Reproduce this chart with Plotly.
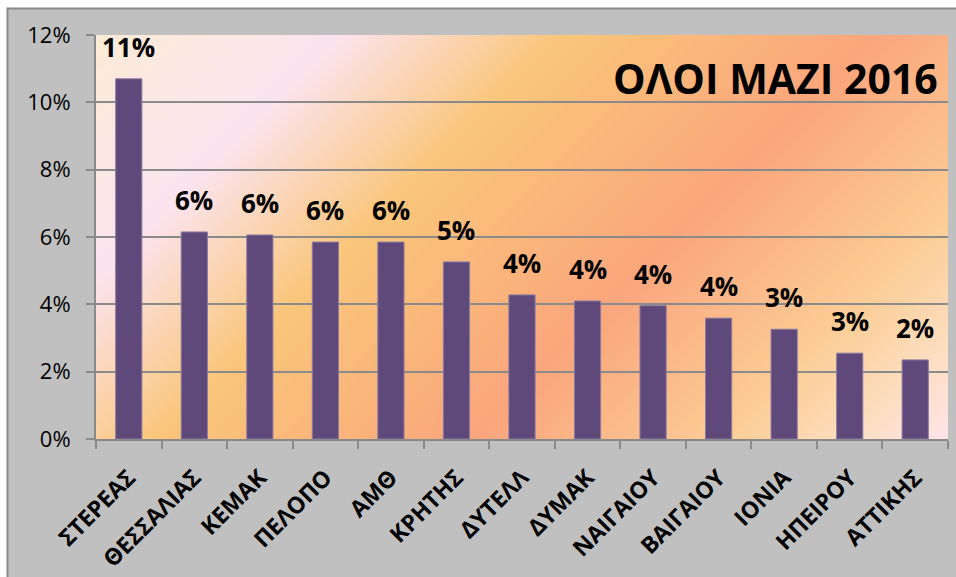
import base64, struct, zlib
import numpy as np
import plotly.graph_objects as go

# ---- data ----
regions = ["ΣΤΕΡΕΑΣ", "ΘΕΣΣΑΛΙΑΣ", "ΚΕΜΑΚ", "ΠΕΛΟΠΟ", "ΑΜΘ", "ΚΡΗΤΗΣ", "ΔΥΤΕΛΛ",
           "ΔΥΜΑΚ", "ΝΑΙΓΑΙΟΥ", "ΒΑΙΓΑΙΟΥ", "ΙΟΝΙΑ", "ΗΠΕΙΡΟΥ", "ΑΤΤΙΚΗΣ"]
share_pct = [10.70, 6.15, 6.06, 5.85, 5.85, 5.26, 4.28, 4.10, 3.96, 3.59, 3.26, 2.55, 2.35]
y_ticks = [0, 2, 4, 6, 8, 10, 12]
y_tick_labels = [f"{v}%" for v in y_ticks]
title_text = "ΟΛΟΙ ΜΑΖΙ 2016"

# ---- layout geometry (pixels) ----
W, H = 956, 577
ML, MR, MT, MB = 96, 8, 35, 138
PW, PH = W - ML - MR, H - MT - MB

def px2paper_x(px):
    return (px - ML) / PW

def px2paper_y(py):
    return (H - MB - py) / PH

# ---- diagonal gradient background for plot area (style only) ----
stops = [
    (0.00, (252, 235, 214)),
    (0.19, (252, 228, 240)),
    (0.37, (250, 198, 122)),
    (0.62, (250, 166, 124)),
    (0.82, (252, 205, 150)),
    (0.92, (253, 222, 192)),
    (1.00, (253, 228, 234)),
]
iw, ih = PW // 2, PH // 2
xx, yy = np.meshgrid(np.arange(iw), np.arange(ih))
s = (xx + yy) / float(iw + ih)
pos = np.array([p for p, _ in stops])
img = np.zeros((ih, iw, 3), dtype=np.uint8)
for c in range(3):
    img[:, :, c] = np.interp(s, pos, [col[c] for _, col in stops]).round().astype(np.uint8)

def make_png(arr):
    h, w, _ = arr.shape
    raw = b"".join(b"\x00" + arr[r].tobytes() for r in range(h))
    def chunk(t, d):
        return struct.pack(">I", len(d)) + t + d + struct.pack(">I", zlib.crc32(t + d) & 0xFFFFFFFF)
    return (b"\x89PNG\r\n\x1a\n" + chunk(b"IHDR", struct.pack(">IIBBBBB", w, h, 8, 2, 0, 0, 0))
            + chunk(b"IDAT", zlib.compress(raw, 9)) + chunk(b"IEND", b""))

bg_src = "data:image/png;base64," + base64.b64encode(make_png(img)).decode()

FONT = "Open Sans"
GRID = "#8A8A8A"

fig = go.Figure()
fig.add_trace(go.Bar(
    x=regions, y=share_pct,
    marker=dict(color="#5F497A", line=dict(color="#8B7BA3", width=1)),
    hoverinfo="x+y",
))

annotations = []
for r, v in zip(regions, share_pct):
    annotations.append(dict(
        x=r, y=v, xref="x", yref="y", text=f"{round(v)}%", showarrow=False,
        yanchor="bottom", xanchor="center", yshift=12,
        font=dict(family=FONT, size=26, color="black", weight="bold"),
    ))
annotations.append(dict(
    x=px2paper_x(940), y=px2paper_y(78), xref="paper", yref="paper",
    text=title_text, showarrow=False, xanchor="right", yanchor="middle",
    font=dict(family=FONT, size=41, color="black", weight="bold"),
))

# white outer strip (left / top) and chart border
shapes = [
    dict(type="rect", xref="paper", yref="paper",
         x0=px2paper_x(-5), x1=px2paper_x(7), y0=px2paper_y(H + 5), y1=px2paper_y(-5),
         fillcolor="white", line=dict(width=0), layer="below"),
    dict(type="rect", xref="paper", yref="paper",
         x0=px2paper_x(-5), x1=px2paper_x(W + 5), y0=px2paper_y(8), y1=px2paper_y(-5),
         fillcolor="white", line=dict(width=0), layer="below"),
    dict(type="line", xref="paper", yref="paper",
         x0=px2paper_x(7.5), x1=px2paper_x(7.5), y0=px2paper_y(H + 5), y1=px2paper_y(7.5),
         line=dict(color="#8A8A8A", width=2)),
    dict(type="line", xref="paper", yref="paper",
         x0=px2paper_x(7.5), x1=px2paper_x(W + 5), y0=px2paper_y(8.5), y1=px2paper_y(8.5),
         line=dict(color="#8A8A8A", width=2)),
]

fig.update_layout(
    autosize=True,
    margin=dict(l=ML, r=MR, t=MT, b=MB, pad=0, autoexpand=False),
    paper_bgcolor="#C0C0C0",
    plot_bgcolor="rgba(0,0,0,0)",
    showlegend=False,
    bargap=0.6,
    annotations=annotations,
    images=[dict(source=bg_src, xref="paper", yref="paper", x=0, y=1, sizex=1, sizey=1,
                 xanchor="left", yanchor="top", sizing="stretch", layer="below")],
    shapes=shapes,
    xaxis=dict(
        type="category", tickangle=-45, ticks="outside", tickson="boundaries",
        ticklen=8, tickwidth=2, tickcolor=GRID, automargin=False,
        showline=True, linecolor=GRID, linewidth=2, showgrid=False,
        tickfont=dict(family=FONT, size=23, color="black", weight="bold"),
        ticklabelstandoff=14,
    ),
    yaxis=dict(
        range=[0, 12], tickvals=y_ticks, ticktext=y_tick_labels, ticks="outside",
        ticklen=8, tickwidth=2, tickcolor=GRID, automargin=False,
        showline=True, linecolor=GRID, linewidth=2,
        showgrid=True, gridcolor=GRID, gridwidth=2, zeroline=False,
        tickfont=dict(family=FONT, size=22, color="black"),
        ticklabelstandoff=11,
    ),
)

# The page starts with a div that fits inside the default 8px body margin (no overflow),
# then the body margin is removed and the figure is resized to the full 956x577 window.
post = (
    "document.documentElement.style.overflow='hidden';"
    "document.body.style.overflow='hidden';"
    "document.body.style.margin='0';"
    "var gd=document.getElementsByClassName('plotly-graph-div')[0];"
    f"gd.style.width='{W}px';gd.style.height='{H}px';"
    f"Plotly.relayout(gd,{{width:{W},height:{H}}});"
)
fig.write_html("out.html", config={"displayModeBar": False, "responsive": False},
               default_width=f"{W - 16}px", default_height=f"{H - 16}px",
               post_script=post)
